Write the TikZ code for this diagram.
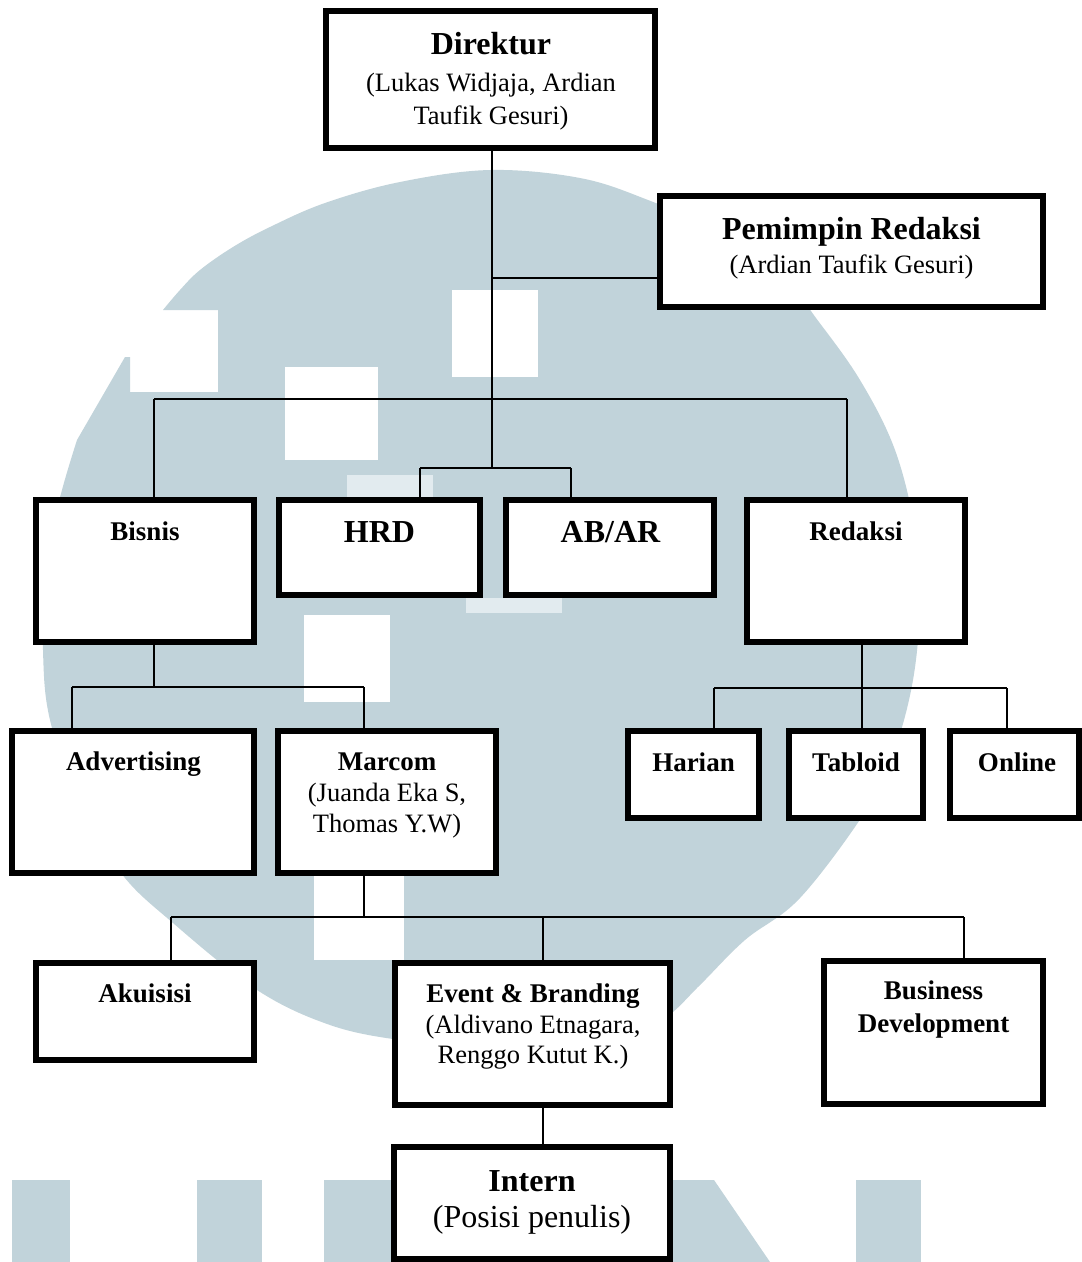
\documentclass[tikz,border=0pt]{standalone}
\usepackage{fontspec}
\setmainfont{Liberation Serif}
\definecolor{wm}{RGB}{193,211,218}
\definecolor{wmlight}{RGB}{226,235,239}
\begin{document}
\begin{tikzpicture}[x=1pt,y=-1pt,
  box/.style={draw=black, line width=6pt, fill=white, rectangle, inner sep=0pt},
  conn/.style={draw=black, line width=1.5pt},
  big/.style={anchor=base, inner sep=0pt, font=\fontsize{32}{36}\selectfont\bfseries},
  lab/.style={anchor=base, inner sep=0pt, font=\fontsize{27}{30}\selectfont\bfseries},
  sub/.style={anchor=base, inner sep=0pt, font=\fontsize{26.5}{30}\selectfont},
  subbig/.style={anchor=base, inner sep=0pt, font=\fontsize{32}{36}\selectfont},
  win/.style={fill=white},
]
\useasboundingbox (0,0) rectangle (1082,1262);
\fill[white] (0,0) rectangle (1082,1262);

% ---------- watermark ----------
\fill[wm] plot[smooth, tension=0.6] coordinates {
  (163,310) (180,290) (200,270) (233,247) (270,227) (325,203) (400,182) (490,170)
  (580,178) (648,200) (720,232) (780,272) (816,318) (860,380) (895,450) (915,530)
  (920,600) (913,680) (893,755) (865,812) (800,898) (745,940) (700,985) (665,1018)
  (620,1038) (550,1047) (470,1045) (400,1040) (330,1025) (257,990) (173,923)
  (121,873) (78,800) (50,720) (43,650) (45,560) (62,490) (77,440)}
  -- (125,357) -- (130,357) -- (130,392) -- (218,392) -- (218,310) -- cycle;
\fill[win] (452,290) rectangle (538,377);
\fill[win] (285,367) rectangle (378,460);
\fill[win] (304,615) rectangle (390,702);
\fill[win] (314,873) rectangle (404,960);
\fill[wmlight] (347,475) rectangle (433,497);
\fill[wmlight] (466,598) rectangle (562,613);
\fill[wm] (12,1180) rectangle (70,1262);
\fill[wm] (197,1180) rectangle (262,1262);
\fill[wm] (324,1180) rectangle (395,1262);
\fill[wm] (673,1180) -- (714,1180) -- (770,1262) -- (673,1262) -- cycle;
\fill[wm] (856,1180) rectangle (921,1262);

% ---------- boxes ----------
\node[box, minimum width=329pt, minimum height=137pt] (dir)  at (490.5,79.5) {};
\node[box, minimum width=383pt, minimum height=111pt] (pr)   at (851.5,251.5) {};
\node[box, minimum width=218pt, minimum height=142pt] (bis)  at (145,571) {};
\node[box, minimum width=201pt, minimum height=95pt]  (hrd)  at (379.5,547.5) {};
\node[box, minimum width=208pt, minimum height=95pt]  (abar) at (610,547.5) {};
\node[box, minimum width=218pt, minimum height=142pt] (red)  at (856,571) {};
\node[box, minimum width=242pt, minimum height=142pt] (adv)  at (133,802) {};
\node[box, minimum width=218pt, minimum height=142pt] (mar)  at (387,802) {};
\node[box, minimum width=131pt, minimum height=87pt]  (har)  at (693.5,774.5) {};
\node[box, minimum width=134pt, minimum height=87pt]  (tab)  at (856,774.5) {};
\node[box, minimum width=129pt, minimum height=87pt]  (onl)  at (1014.5,774.5) {};
\node[box, minimum width=218pt, minimum height=97pt]  (aku)  at (145,1011.5) {};
\node[box, minimum width=275pt, minimum height=142pt] (evt)  at (532.5,1034) {};
\node[box, minimum width=219pt, minimum height=143pt] (bd)   at (933.5,1032.5) {};
\node[box, minimum width=276pt, minimum height=112pt] (int)  at (532,1203) {};

% ---------- junction coordinates ----------
\coordinate (j0) at (492,278);
\coordinate (j2) at (492,468);
\coordinate (bL) at (154,399);
\coordinate (bR) at (847,399);
\coordinate (hL) at (420,468);
\coordinate (hR) at (571,468);
\coordinate (bsJ) at (154,687);
\coordinate (aL) at (72,687);
\coordinate (aR) at (364,687);
\coordinate (rJ) at (862,688);
\coordinate (rL) at (714,688);
\coordinate (rR) at (1007,688);
\coordinate (mJ) at (364,917);
\coordinate (mL) at (171,917);
\coordinate (mE) at (543,917);
\coordinate (mR) at (964,917);

% ---------- connectors ----------
\draw[conn] (dir.south -| j0) -- (j2);
\draw[conn] (j0) -- (j0 -| pr.west);
\draw[conn] (bL) -- (bR);
\draw[conn] (bL) -- (bL |- bis.north);
\draw[conn] (bR) -- (bR |- red.north);
\draw[conn] (hL) -- (hR);
\draw[conn] (hL) -- (hL |- hrd.north);
\draw[conn] (hR) -- (hR |- abar.north);
\draw[conn] (bis.south -| bsJ) -- (bsJ);
\draw[conn] (aL) -- (aR);
\draw[conn] (aL) -- (aL |- adv.north);
\draw[conn] (aR) -- (aR |- mar.north);
\draw[conn] (red.south -| rJ) -- (rJ);
\draw[conn] (rL) -- (rR);
\draw[conn] (rL) -- (rL |- har.north);
\draw[conn] (rJ) -- (rJ |- tab.north);
\draw[conn] (rR) -- (rR |- onl.north);
\draw[conn] (mar.south -| mJ) -- (mJ);
\draw[conn] (mL) -- (mR);
\draw[conn] (mL) -- (mL |- aku.north);
\draw[conn] (mE) -- (mE |- evt.north);
\draw[conn] (mR) -- (mR |- bd.north);
\draw[conn] (evt.south -| mE) -- (int.north -| mE);

% ---------- texts ----------
\node[big] (dirT1) at (491,54) {Direktur};
\node[sub] (dirT2) at (491,91) {(Lukas Widjaja, Ardian};
\node[sub] (dirT3) at (491,124) {Taufik Gesuri)};
\node[big] (prT1) at (851.5,239) {Pemimpin Redaksi};
\node[sub] (prT2) at (851.5,273) {(Ardian Taufik Gesuri)};
\node[lab] (bisT) at (145,540) {Bisnis};
\node[big] (hrdT) at (379.5,542) {HRD};
\node[big] (abarT) at (610.5,542) {AB/AR};
\node[lab] (redT) at (856,540) {Redaksi};
\node[lab] (advT) at (133.5,770) {Advertising};
\node[lab] (marT1) at (387,770) {Marcom};
\node[sub] (marT2) at (387,801) {(Juanda Eka S,};
\node[sub] (marT3) at (387,832) {Thomas Y.W)};
\node[lab] (harT) at (693.5,771) {Harian};
\node[lab] (tabT) at (856,771) {Tabloid};
\node[lab] (onlT) at (1017,771) {Online};
\node[lab] (akuT) at (145,1002) {Akuisisi};
\node[lab] (evtT1) at (533,1002) {Event \& Branding};
\node[sub] (evtT2) at (533,1033) {(Aldivano Etnagara,};
\node[sub] (evtT3) at (533,1063) {Renggo Kutut K.)};
\node[lab] (bdT1) at (933.5,999) {Business};
\node[lab] (bdT2) at (933.5,1032) {Development};
\node[big] (intT1) at (532,1191) {Intern};
\node[subbig] (intT2) at (532,1227) {(Posisi penulis)};
\end{tikzpicture}
\end{document}
